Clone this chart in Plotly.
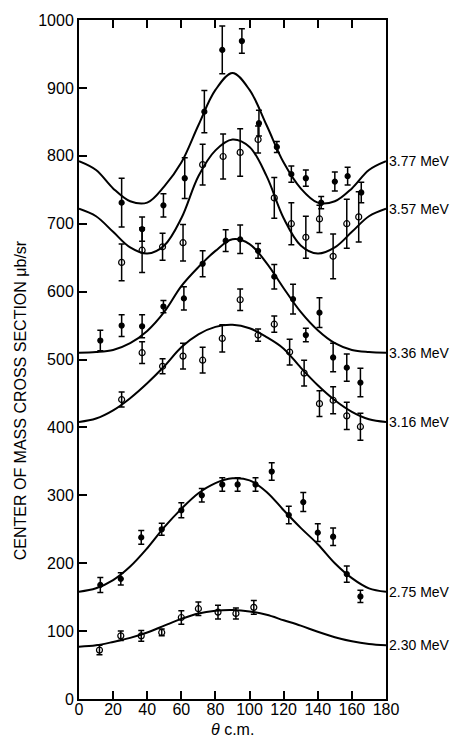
import plotly.graph_objects as go

# ---- curve samples (theta in degrees c.m., cross section in microbarn/sr) ----
curve_theta = [0, 10, 20, 30, 40, 50, 60, 70, 80, 90, 100, 110, 120, 130, 140, 150, 160, 170, 180]
curve_377 = [792, 779, 752, 733, 731, 755, 790, 845, 897, 922, 897, 845, 790, 752, 731, 733, 752, 779, 792]
curve_357 = [722, 711, 688, 665, 656, 668, 708, 770, 808, 824, 813, 770, 708, 668, 656, 665, 688, 711, 722]
curve_336 = [510, 511, 514, 524, 542, 570, 608, 636, 660, 677, 670, 642, 605, 570, 543, 524, 514, 511, 510]
curve_316 = [408, 413, 425, 443, 465, 490, 518, 537, 548, 551, 546, 533, 516, 488, 462, 440, 423, 412, 408]
curve_275 = [158, 163, 175, 195, 222, 253, 280, 303, 318, 325, 322, 305, 278, 252, 228, 200, 178, 163, 158]
curve_230 = [77, 79, 84, 90, 98, 108, 118, 126, 130, 131, 129, 124, 116, 108, 99, 91, 85, 81, 79]

# ---- measured points ----
th_377 = [25, 37, 49.5, 62, 73.5, 84, 95.5, 105.5, 116, 124.5, 133, 142, 150, 157.5, 165.5]
v_377 = [731, 692, 727, 767, 865, 956, 969, 848, 813, 773, 767, 731, 762, 770, 746]
e_377 = [36, 18, 17, 30, 31, 35, 18, 19, 8, 12, 12, 9, 14, 13, 15]

th_357 = [25, 37, 49, 61, 72.5, 84.5, 94.5, 105, 114.5, 124.5, 133, 141, 149, 157, 164]
v_357 = [643, 661, 666, 672, 787, 799, 805, 824, 738, 700, 680, 707, 652, 700, 710]
e_357 = [27, 33, 20, 27, 30, 33, 35, 20, 30, 31, 31, 20, 33, 36, 37]

th_336 = [12.5, 25, 37, 49.5, 61.5, 72.5, 86, 94.5, 105, 114.5, 125.5, 133, 141, 149, 157, 165]
v_336 = [528, 550, 549, 578, 590, 641, 675, 677, 660, 622, 589, 536, 569, 503, 488, 466]
e_336 = [15, 16, 17, 9, 17, 19, 16, 21, 11, 18, 22, 10, 22, 21, 20, 21]

th_316 = [25, 37, 49, 61, 72.5, 84, 94.5, 105, 114.5, 123.5, 132, 141, 149, 157, 165]
v_316 = [441, 510, 490, 505, 499, 531, 588, 536, 552, 511, 480, 435, 440, 417, 401]
e_316 = [11, 16, 11, 19, 19, 20, 16, 9, 12, 19, 19, 19, 20, 20, 20]

th_275 = [12.5, 24.5, 36.5, 48.5, 60, 72, 84, 93, 103.5, 113, 123, 131.5, 140, 149, 157, 165]
v_275 = [168, 177, 238, 250, 278, 300, 316, 316, 316, 335, 271, 290, 245, 239, 184, 151]
e_275 = [11, 9, 10, 9, 11, 10, 10, 10, 10, 13, 13, 14, 13, 13, 12, 9]

th_230 = [12, 24.5, 36.5, 48.5, 60, 70, 81.5, 92, 102.5]
v_230 = [72, 93, 93, 98, 120, 133, 128, 126, 135]
e_230 = [7, 7, 8, 5, 10, 10, 10, 8, 10]

labels = ["3.77 MeV", "3.57 MeV", "3.36 MeV", "3.16 MeV", "2.75 MeV", "2.30 MeV"]

x_ticks = [0, 20, 40, 60, 80, 100, 120, 140, 160, 180]
y_ticks = [0, 100, 200, 300, 400, 500, 600, 700, 800, 900, 1000]

curves = [curve_377, curve_357, curve_336, curve_316, curve_275, curve_230]
points = [
    (th_377, v_377, e_377, True),
    (th_357, v_357, e_357, False),
    (th_336, v_336, e_336, True),
    (th_316, v_316, e_316, False),
    (th_275, v_275, e_275, True),
    (th_230, v_230, e_230, False),
]

fig = go.Figure()
for c in curves:
    fig.add_trace(go.Scatter(x=curve_theta, y=c, mode="lines",
                             line=dict(color="black", width=2, shape="spline", smoothing=1.0),
                             hoverinfo="skip", showlegend=False))
for th, v, e, filled in points:
    fig.add_trace(go.Scatter(
        x=th, y=v, mode="markers",
        error_y=dict(type="data", array=e, visible=True, color="black", thickness=1.5, width=3),
        marker=dict(symbol="circle" if filled else "circle-open", size=5 if filled else 6,
                    color="black", line=dict(color="black", width=1.2)),
        showlegend=False))

for lab, c in zip(labels, curves):
    fig.add_annotation(x=180, y=c[-1], text=lab, showarrow=False, xanchor="left",
                       yanchor="middle", xshift=1, font=dict(size=14, color="black"))

# y-axis title placed as rotated annotation
fig.add_annotation(xref="paper", yref="paper", x=-0.192, y=0.44,
                   text="CENTER OF MASS CROSS SECTION μb/sr", textangle=-90,
                   showarrow=False, xanchor="center", yanchor="middle",
                   font=dict(size=16, color="black"))
# x-axis title
fig.add_annotation(xref="paper", yref="paper", x=0.5, y=-0.045,
                   text="<i>θ</i> c.m.", showarrow=False,
                   xanchor="center", yanchor="middle",
                   font=dict(size=16, color="black"))

font_family = "Liberation Sans, Arial, sans-serif"
fig.update_layout(
    width=445, height=735,
    margin=dict(l=71, r=67, t=12, b=44, autoexpand=False),
    paper_bgcolor="white", plot_bgcolor="white",
    font=dict(family=font_family, size=16, color="black"),
    xaxis=dict(range=[0, 180], tickvals=x_ticks, ticktext=[str(t) for t in x_ticks],
               showline=True, linecolor="black", linewidth=2, mirror="ticks",
               ticks="inside", ticklen=8, tickwidth=1.5, tickcolor="black",
               showgrid=False, zeroline=False, automargin=False,
               ticklabelstandoff=-5),
    yaxis=dict(range=[0, 1000], tickvals=y_ticks, ticktext=[str(t) for t in y_ticks],
               showline=True, linecolor="black", linewidth=2, mirror=True,
               ticks="inside", ticklen=8, tickwidth=1.5, tickcolor="black",
               showgrid=False, zeroline=False, automargin=False),
)

fig.write_html("out.html")
